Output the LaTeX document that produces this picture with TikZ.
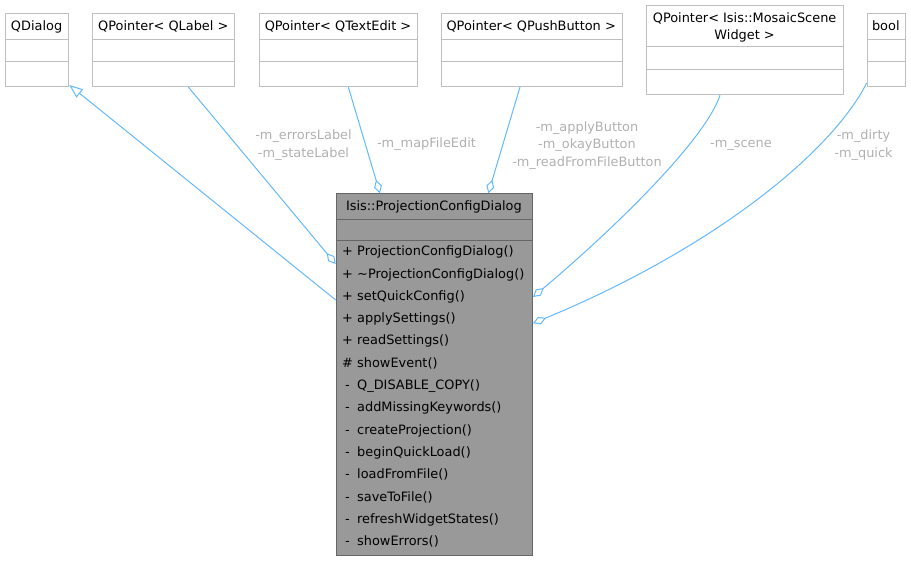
\documentclass[tikz,border=0pt]{standalone}
\usepackage{fontspec}
\setmainfont{DejaVu Sans}
\usetikzlibrary{arrows.meta}
\definecolor{edgeblue}{HTML}{63B8FF}
\definecolor{boxgray}{HTML}{BFBFBF}
\definecolor{maingray}{HTML}{999999}
\definecolor{mainborder}{HTML}{666666}
\definecolor{labelgray}{HTML}{B0B0B0}
\tikzset{
  cls/.style={draw=boxgray, fill=white, line width=1pt, rectangle, inner sep=0pt, anchor=north west},
  mainbox/.style={draw=mainborder, fill=maingray, line width=1pt, rectangle, inner sep=0pt, anchor=north west},
  divline/.style={draw=boxgray, line width=1pt},
  maindiv/.style={draw=mainborder, line width=1pt},
  txt/.style={font=\fontsize{12.9}{15.5}\selectfont, inner sep=0pt, text=black},
  lbl/.style={font=\fontsize{12.9}{17.3}\selectfont, inner sep=0pt, text=labelgray, align=center},
  edge/.style={draw=edgeblue, line width=1pt},
  aggr/.style={edge, {Diamond[open, length=14pt, width=8pt, line width=1pt]}-},
  inherit/.style={edge, -{Triangle[open, length=13.5pt, width=10.5pt, line width=1pt]}},
}
\begin{document}
\begin{tikzpicture}[x=1pt, y=-1pt]
\useasboundingbox (0,0) rectangle (911,562);

% ---- top classes ----
\node[cls, minimum width=63.3pt, minimum height=73pt] (qdialog) at (5,13) {};
\node[cls, minimum width=142pt, minimum height=73pt] (qlabel) at (92.3,13) {};
\node[cls, minimum width=158.6pt, minimum height=73pt] (qtextedit) at (258.7,13) {};
\node[cls, minimum width=181pt, minimum height=73pt] (qpush) at (440.7,13) {};
\node[cls, minimum width=197.3pt, minimum height=89.3pt] (mosaic) at (646,5) {};
\node[cls, minimum width=38.3pt, minimum height=73pt] (bool) at (866.7,13) {};

\foreach \n in {qdialog, qlabel, qtextedit, qpush, bool}{
  \draw[divline] ([yshift=-26pt]\n.north west) -- ([yshift=-26pt]\n.north east);
  \draw[divline] ([yshift=-48pt]\n.north west) -- ([yshift=-48pt]\n.north east);
}
\draw[divline] ([yshift=-41.7pt]mosaic.north west) -- ([yshift=-41.7pt]mosaic.north east);
\draw[divline] ([yshift=-64.3pt]mosaic.north west) -- ([yshift=-64.3pt]mosaic.north east);

\node[txt, anchor=base] (tqdialog) at (36.6,30.2) {QDialog};
\node[txt, anchor=base] (tqlabel) at (163.3,30.2) {QPointer< QLabel >};
\node[txt, anchor=base] (tqtextedit) at (338,30.2) {QPointer< QTextEdit >};
\node[txt, anchor=base] (tqpush) at (531.2,30.2) {QPointer< QPushButton >};
\node[txt, anchor=base] (tmosaic1) at (744.6,22.6) {QPointer< Isis::MosaicScene};
\node[txt, anchor=base] (tmosaic2) at (744.6,39.9) {Widget >};
\node[txt, anchor=base] (tbool) at (885.8,30.2) {bool};

% ---- main class ----
\node[mainbox, minimum width=196.3pt, minimum height=361.7pt] (main) at (335.7,193.3) {};
\draw[maindiv] ([yshift=-25.7pt]main.north west) -- ([yshift=-25.7pt]main.north east);
\draw[maindiv] ([yshift=-47.4pt]main.north west) -- ([yshift=-47.4pt]main.north east);
\node[txt, anchor=base] (tmain) at (433.9,210.3) {Isis::ProjectionConfigDialog};

\foreach \s/\m [count=\i from 0] in {
  +/ProjectionConfigDialog(),
  +/\textasciitilde ProjectionConfigDialog(),
  +/setQuickConfig(),
  +/applySettings(),
  +/readSettings(),
  \#/showEvent(),
  -/Q\_DISABLE\_COPY(),
  -/addMissingKeywords(),
  -/createProjection(),
  -/beginQuickLoad(),
  -/loadFromFile(),
  -/saveToFile(),
  -/refreshWidgetStates(),
  -/showErrors()}{
  \node[txt, anchor=base] (sym\i) at (347.5, 255.7+\i*22.3) {\s};
  \node[txt, anchor=base west] (meth\i) at (357, 255.7+\i*22.3) {\m};
}

% ---- connectors ----
\draw[inherit] ([yshift=-106.7pt]main.north west) -- ([yshift=2pt]qdialog.south east);
\draw[aggr] ([yshift=-70.7pt]main.north west) -- ([xshift=96pt]qlabel.south west);
\draw[aggr] ([xshift=44.3pt]main.north west) -- ([xshift=89.6pt]qtextedit.south west);
\draw[aggr] ([xshift=152.6pt]main.north west) -- ([xshift=79.3pt]qpush.south west);
\draw[aggr] ([yshift=-103.7pt]main.north east) .. controls (615,228) and (705,140) .. ([xshift=74pt]mosaic.south west);
\draw[aggr] ([yshift=-130pt]main.north east) .. controls (710,250) and (830,155) .. ([yshift=4pt]bool.south west);

% ---- labels ----
\node[lbl] (l1) at (303.5,145) {-m\_errorsLabel\\-m\_stateLabel};
\node[lbl] (l2) at (426.5,144.3) {-m\_mapFileEdit};
\node[lbl] (l3) at (587,145.5) {-m\_applyButton\\-m\_okayButton\\-m\_readFromFileButton};
\node[lbl, anchor=base] (l4) at (741,147) {-m\_scene};
\node[lbl] (l5) at (863.5,145.2) {-m\_dirty\\-m\_quick};
\end{tikzpicture}
\end{document}
